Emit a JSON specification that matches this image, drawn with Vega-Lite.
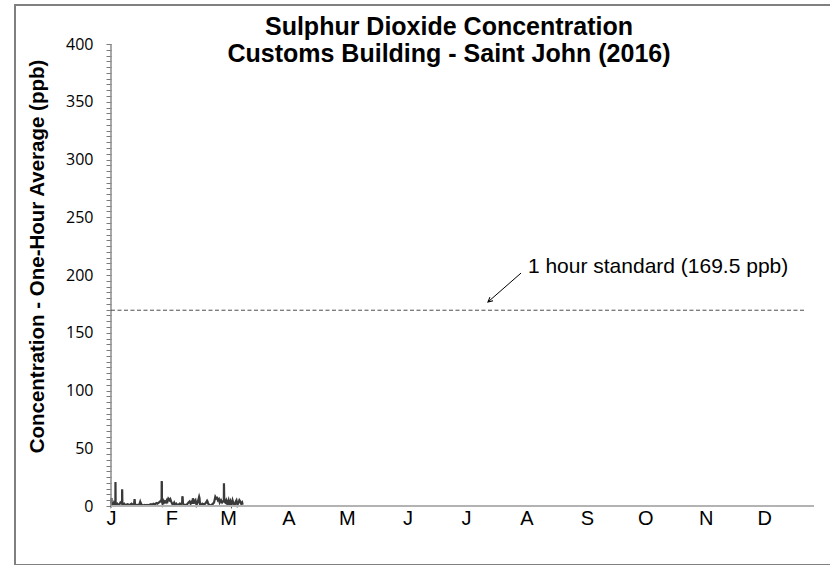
{
  "$schema": "https://vega.github.io/schema/vega-lite/v6.json",
  "width": 816,
  "height": 560,
  "autosize": {"type": "none"},
  "padding": {"left": 15, "top": 5, "right": 0, "bottom": 0},
  "background": "white",
  "config": {
    "view": {"stroke": "#808080", "strokeWidth": 2},
    "font": "Liberation Sans"
  },
  "title": {
    "text": ["Sulphur Dioxide Concentration", "Customs Building - Saint John (2016)"],
    "font": "Liberation Sans",
    "fontSize": 25,
    "fontWeight": "bold",
    "color": "black",
    "anchor": "middle",
    "frame": "group",
    "lineHeight": 27,
    "offset": -62,
    "dx": 26
  },
  "datasets": {
    "so2": [
      {"time": "2016-01-01T00:00", "value": 2},
      {"time": "2016-01-01T06:00", "value": 7},
      {"time": "2016-01-01T08:00", "value": 1},
      {"time": "2016-01-01T16:00", "value": 2},
      {"time": "2016-01-02T00:00", "value": 1},
      {"time": "2016-01-02T12:00", "value": 3},
      {"time": "2016-01-02T20:00", "value": 2},
      {"time": "2016-01-03T06:00", "value": 3},
      {"time": "2016-01-03T07:00", "value": 20.7},
      {"time": "2016-01-03T08:00", "value": 12},
      {"time": "2016-01-03T09:00", "value": 2},
      {"time": "2016-01-03T18:00", "value": 1},
      {"time": "2016-01-04T06:00", "value": 2},
      {"time": "2016-01-04T18:00", "value": 1},
      {"time": "2016-01-05T08:00", "value": 1.5},
      {"time": "2016-01-05T20:00", "value": 3},
      {"time": "2016-01-06T12:00", "value": 2},
      {"time": "2016-01-06T16:00", "value": 3},
      {"time": "2016-01-06T17:00", "value": 14.4},
      {"time": "2016-01-06T18:00", "value": 13},
      {"time": "2016-01-06T20:00", "value": 2},
      {"time": "2016-01-07T06:00", "value": 1},
      {"time": "2016-01-07T18:00", "value": 2},
      {"time": "2016-01-08T06:00", "value": 1},
      {"time": "2016-01-08T18:00", "value": 1},
      {"time": "2016-01-09T12:00", "value": 1.5},
      {"time": "2016-01-10T06:00", "value": 1},
      {"time": "2016-01-10T18:00", "value": 1},
      {"time": "2016-01-11T12:00", "value": 2},
      {"time": "2016-01-12T08:00", "value": 1},
      {"time": "2016-01-12T20:00", "value": 1.5},
      {"time": "2016-01-13T02:00", "value": 6},
      {"time": "2016-01-13T04:00", "value": 5},
      {"time": "2016-01-13T08:00", "value": 1},
      {"time": "2016-01-13T20:00", "value": 1},
      {"time": "2016-01-14T06:00", "value": 0.5},
      {"time": "2016-01-14T18:00", "value": 1},
      {"time": "2016-01-15T12:00", "value": 1},
      {"time": "2016-01-16T00:00", "value": 3.7},
      {"time": "2016-01-16T06:00", "value": 2.5},
      {"time": "2016-01-16T18:00", "value": 1},
      {"time": "2016-01-17T12:00", "value": 0.5},
      {"time": "2016-01-18T06:00", "value": 1},
      {"time": "2016-01-18T18:00", "value": 0.5},
      {"time": "2016-01-19T12:00", "value": 1},
      {"time": "2016-01-20T06:00", "value": 0.5},
      {"time": "2016-01-20T18:00", "value": 1},
      {"time": "2016-01-21T12:00", "value": 1.5},
      {"time": "2016-01-22T06:00", "value": 1},
      {"time": "2016-01-22T18:00", "value": 2},
      {"time": "2016-01-23T12:00", "value": 1.5},
      {"time": "2016-01-24T06:00", "value": 2.5},
      {"time": "2016-01-24T18:00", "value": 2},
      {"time": "2016-01-25T12:00", "value": 3},
      {"time": "2016-01-26T06:00", "value": 4},
      {"time": "2016-01-26T16:00", "value": 5},
      {"time": "2016-01-26T23:00", "value": 5},
      {"time": "2016-01-27T00:00", "value": 21.6},
      {"time": "2016-01-27T01:00", "value": 18},
      {"time": "2016-01-27T02:00", "value": 21},
      {"time": "2016-01-27T03:00", "value": 4},
      {"time": "2016-01-27T10:00", "value": 2},
      {"time": "2016-01-27T20:00", "value": 4.5},
      {"time": "2016-01-28T06:00", "value": 3},
      {"time": "2016-01-28T16:00", "value": 4},
      {"time": "2016-01-29T04:00", "value": 3},
      {"time": "2016-01-29T16:00", "value": 5},
      {"time": "2016-01-30T00:00", "value": 4},
      {"time": "2016-01-30T10:00", "value": 6.5},
      {"time": "2016-01-30T16:00", "value": 6},
      {"time": "2016-01-31T00:00", "value": 5},
      {"time": "2016-01-31T10:00", "value": 6},
      {"time": "2016-01-31T20:00", "value": 4},
      {"time": "2016-02-01T08:00", "value": 2},
      {"time": "2016-02-01T20:00", "value": 1},
      {"time": "2016-02-02T10:00", "value": 3},
      {"time": "2016-02-02T22:00", "value": 1},
      {"time": "2016-02-03T12:00", "value": 2},
      {"time": "2016-02-04T00:00", "value": 1},
      {"time": "2016-02-04T14:00", "value": 1},
      {"time": "2016-02-05T06:00", "value": 2},
      {"time": "2016-02-05T20:00", "value": 1.5},
      {"time": "2016-02-06T12:00", "value": 3},
      {"time": "2016-02-06T14:00", "value": 8.4},
      {"time": "2016-02-06T18:00", "value": 7.5},
      {"time": "2016-02-06T22:00", "value": 2},
      {"time": "2016-02-07T12:00", "value": 1},
      {"time": "2016-02-08T02:00", "value": 1},
      {"time": "2016-02-08T16:00", "value": 0.5},
      {"time": "2016-02-09T06:00", "value": 2},
      {"time": "2016-02-09T18:00", "value": 3},
      {"time": "2016-02-10T08:00", "value": 4},
      {"time": "2016-02-10T20:00", "value": 2},
      {"time": "2016-02-11T12:00", "value": 4},
      {"time": "2016-02-11T20:00", "value": 2},
      {"time": "2016-02-12T00:00", "value": 6.6},
      {"time": "2016-02-12T04:00", "value": 6},
      {"time": "2016-02-12T10:00", "value": 2},
      {"time": "2016-02-12T22:00", "value": 4},
      {"time": "2016-02-13T08:00", "value": 5},
      {"time": "2016-02-13T20:00", "value": 1},
      {"time": "2016-02-14T10:00", "value": 3},
      {"time": "2016-02-15T05:00", "value": 8},
      {"time": "2016-02-15T09:00", "value": 7},
      {"time": "2016-02-15T16:00", "value": 1},
      {"time": "2016-02-16T08:00", "value": 1},
      {"time": "2016-02-16T20:00", "value": 2},
      {"time": "2016-02-17T10:00", "value": 1.5},
      {"time": "2016-02-18T06:00", "value": 2},
      {"time": "2016-02-18T18:00", "value": 3},
      {"time": "2016-02-19T07:00", "value": 4.6},
      {"time": "2016-02-19T12:00", "value": 4},
      {"time": "2016-02-19T20:00", "value": 2},
      {"time": "2016-02-20T10:00", "value": 1},
      {"time": "2016-02-21T02:00", "value": 0.5},
      {"time": "2016-02-21T16:00", "value": 1},
      {"time": "2016-02-22T08:00", "value": 2},
      {"time": "2016-02-22T20:00", "value": 3},
      {"time": "2016-02-23T06:00", "value": 6},
      {"time": "2016-02-23T12:00", "value": 8},
      {"time": "2016-02-23T16:00", "value": 7.5},
      {"time": "2016-02-24T00:00", "value": 6.5},
      {"time": "2016-02-24T10:00", "value": 7},
      {"time": "2016-02-24T20:00", "value": 5},
      {"time": "2016-02-25T08:00", "value": 6},
      {"time": "2016-02-25T18:00", "value": 3},
      {"time": "2016-02-26T10:00", "value": 5},
      {"time": "2016-02-27T00:00", "value": 3},
      {"time": "2016-02-27T12:00", "value": 4},
      {"time": "2016-02-27T21:00", "value": 4},
      {"time": "2016-02-27T22:00", "value": 19.6},
      {"time": "2016-02-27T23:00", "value": 17},
      {"time": "2016-02-28T02:00", "value": 4},
      {"time": "2016-02-28T14:00", "value": 3},
      {"time": "2016-02-29T02:00", "value": 5},
      {"time": "2016-02-29T14:00", "value": 2},
      {"time": "2016-03-01T06:00", "value": 5},
      {"time": "2016-03-01T16:00", "value": 1},
      {"time": "2016-03-02T06:00", "value": 4},
      {"time": "2016-03-02T18:00", "value": 1},
      {"time": "2016-03-03T08:00", "value": 5},
      {"time": "2016-03-03T20:00", "value": 2},
      {"time": "2016-03-04T10:00", "value": 1},
      {"time": "2016-03-05T00:00", "value": 4},
      {"time": "2016-03-05T08:00", "value": 5},
      {"time": "2016-03-05T20:00", "value": 1},
      {"time": "2016-03-06T10:00", "value": 3},
      {"time": "2016-03-06T20:00", "value": 5},
      {"time": "2016-03-07T06:00", "value": 4},
      {"time": "2016-03-07T18:00", "value": 2},
      {"time": "2016-03-08T06:00", "value": 3},
      {"time": "2016-03-08T12:00", "value": 1}
    ]
  },
  "encoding": {
    "x": {
      "field": "time",
      "type": "temporal",
      "scale": {
        "domain": [
          {"year": 2015, "month": 11, "date": 12, "hours": 18, "minutes": 28},
          {"year": 2017, "month": 1, "date": 4, "hours": 5, "minutes": 32}
        ]
      },
      "axis": {
        "title": null,
        "orient": "bottom",
        "offset": -59,
        "domain": false,
        "ticks": false,
        "grid": false,
        "values": [
          {"year": 2016, "month": 1, "date": 1},
          {"year": 2016, "month": 2, "date": 1},
          {"year": 2016, "month": 3, "date": 1},
          {"year": 2016, "month": 4, "date": 1},
          {"year": 2016, "month": 5, "date": 1},
          {"year": 2016, "month": 6, "date": 1},
          {"year": 2016, "month": 7, "date": 1},
          {"year": 2016, "month": 8, "date": 1},
          {"year": 2016, "month": 9, "date": 1},
          {"year": 2016, "month": 10, "date": 1},
          {"year": 2016, "month": 11, "date": 1},
          {"year": 2016, "month": 12, "date": 1}
        ],
        "format": "%b",
        "labelExpr": "substring(datum.label, 0, 1)",
        "labelFont": "Liberation Sans",
        "labelFontSize": 20,
        "labelColor": "black",
        "labelPadding": 2,
        "labelOverlap": false,
        "labelFlush": false
      }
    },
    "y": {
      "field": "value",
      "type": "quantitative",
      "scale": {"domain": [-51.08, 433.77], "nice": false, "zero": false},
      "axis": {
        "title": "Concentration - One-Hour Average (ppb)",
        "titleFont": "Liberation Sans",
        "titleFontSize": 20.5,
        "titleFontWeight": "bold",
        "titleColor": "black",
        "titlePadding": 18,
        "titleY": 251,
        "offset": -96,
        "domain": false,
        "grid": false,
        "ticks": true,
        "tickColor": "#7a7a7a",
        "tickSize": 5,
        "tickWidth": 1,
        "values": [0,5,10,15,20,25,30,35,40,45,50,55,60,65,70,75,80,85,90,95,100,105,110,115,120,125,130,135,140,145,150,155,160,165,170,175,180,185,190,195,200,205,210,215,220,225,230,235,240,245,250,255,260,265,270,275,280,285,290,295,300,305,310,315,320,325,330,335,340,345,350,355,360,365,370,375,380,385,390,395,400],
        "labelExpr": "datum.value % 50 == 0 ? datum.label : ''",
        "format": "d",
        "labelFont": "Open Sans",
        "labelFontSize": 16,
        "labelColor": "black",
        "labelPadding": 13,
        "labelOverlap": false,
        "labelFlush": false
      }
    }
  },
  "layer": [
    {
      "data": {"name": "so2"},
      "mark": {"type": "line", "color": "#3a3a3a", "strokeWidth": 2.2, "interpolate": "linear"}
    },
    {
      "data": {"values": [{"time": "2016-01-01T00:00", "time2": "2016-12-26T12:00", "value": 0}]},
      "mark": {"type": "rule", "color": "#b3b3b3", "strokeWidth": 2},
      "encoding": {"x2": {"field": "time2"}}
    },
    {
      "data": {"values": [{"time": "2016-01-01T00:00", "value": 0, "value2": 400}]},
      "mark": {"type": "rule", "color": "#8c8c8c", "strokeWidth": 1.5},
      "encoding": {"y2": {"field": "value2"}}
    },
    {
      "data": {"values": [{"time": "2016-01-01T00:00", "time2": "2016-12-21T21:00", "value": 169.5}]},
      "mark": {"type": "rule", "color": "#4d4d4d", "strokeWidth": 1, "strokeDash": [4, 2.5]},
      "encoding": {"x2": {"field": "time2"}}
    },
    {
      "data": {"values": [
        {"time": "2016-07-29T07:00", "value": 201.7},
        {"time": "2016-07-12T07:00", "value": 176.6}
      ]},
      "mark": {"type": "line", "color": "black", "strokeWidth": 1}
    },
    {
      "data": {"values": [{"time": "2016-07-12T07:00", "value": 176.6}]},
      "mark": {
        "type": "point",
        "shape": "M-0.45,0.9L0,0L0.45,0.9",
        "filled": false,
        "stroke": "black",
        "strokeWidth": 1,
        "size": 110,
        "angle": 229,
        "opacity": 1
      }
    },
    {
      "data": {"values": [{"time": "2016-08-01T19:00", "value": 207, "label": "1 hour standard (169.5 ppb)"}]},
      "mark": {"type": "text", "align": "left", "baseline": "middle", "font": "Liberation Sans", "fontSize": 21, "color": "black"},
      "encoding": {"text": {"field": "label"}}
    }
  ]
}
